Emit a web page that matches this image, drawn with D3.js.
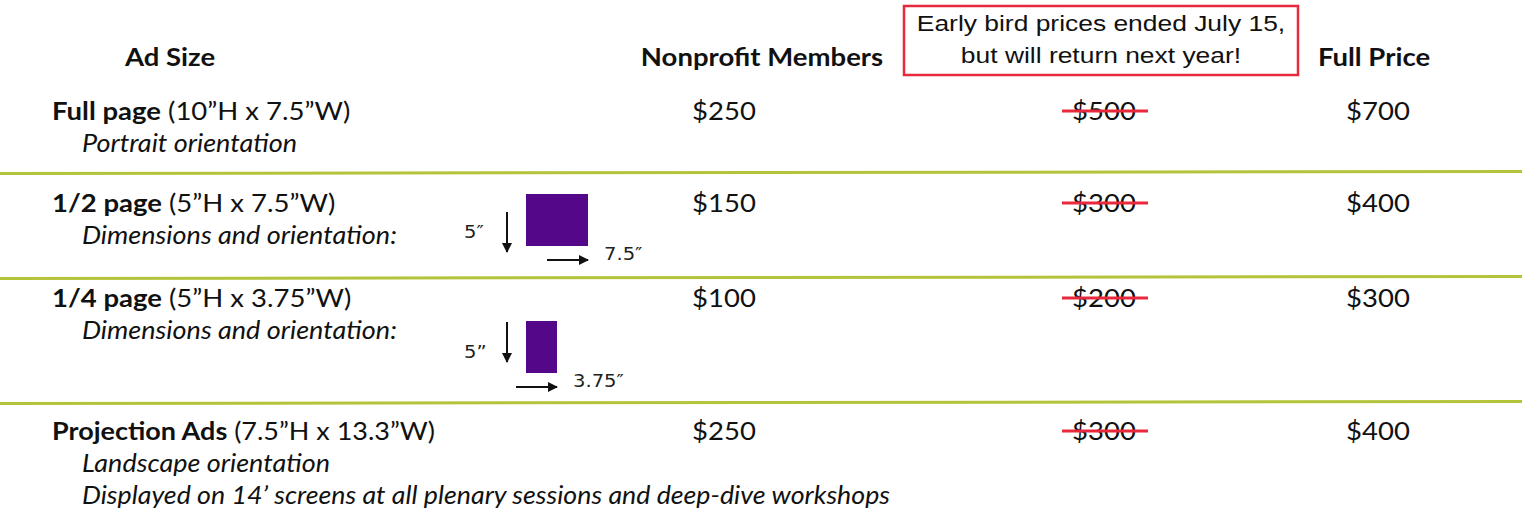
<!DOCTYPE html>
<html>
<head>
<meta charset="utf-8">
<script src="https://cdn.jsdelivr.net/npm/d3@7"></script>
<style>
  body { margin: 0; background: #fff; }
  svg { display: block; font-family: Lato, "Open Sans", sans-serif; }
</style>
</head>
<body>
<div id="wrapper"></div>
<script>

// data
const columnHeaders = ["Ad Size", "Nonprofit Members", "Full Price"];
const noticeLines = ["Early bird prices ended July 15,", "but will return next year!"];

const adNames = ["Full page", "1/2 page", "1/4 page", "Projection Ads"];
const adDims = ["(10”H x 7.5”W)", "(5”H x 7.5”W)", "(5”H x 3.75”W)", "(7.5”H x 13.3”W)"];
const adNotes = [
    ["Portrait orientation"],
    ["Dimensions and orientation:"],
    ["Dimensions and orientation:"],
    ["Landscape orientation", "Displayed on 14’ screens at all plenary sessions and deep-dive workshops"]
];
const memberPrices = [250, 150, 100, 250];
const earlyBirdPrices = [500, 300, 200, 300];
const fullPrices = [700, 400, 300, 400];

// sample ad shapes, in inches (only for the half and quarter page rows)
const shapeHeights = [null, 5, 5, null];
const shapeWidths = [null, 7.5, 3.75, null];
const shapeHeightLabels = [null, "5″", "5”", null];
const shapeWidthLabels = [null, "7.5″", "3.75″", null];

// stretch text horizontally (the original slide is a bit wide)
function stretch(selection, k) {
    selection.each(function() {
        const w = this.getComputedTextLength();
        d3.select(this)
            .attr("textLength", w * k)
            .attr("lengthAdjust", "spacingAndGlyphs");
    });
}

function drawTable() {

    const width = 1530;
    const height = 512;

    const rows = adNames.map((name, i) => ({
        name,
        dims: adDims[i],
        notes: adNotes[i],
        member: memberPrices[i],
        early: earlyBirdPrices[i],
        full: fullPrices[i],
        shapeH: shapeHeights[i],
        shapeW: shapeWidths[i],
        labelH: shapeHeightLabels[i],
        labelW: shapeWidthLabels[i]
    }));

    // layout
    const rowHeights = [110, 105, 125, 110];
    const headerHeight = 62;
    const rowTops = rowHeights.map((h, i) => headerHeight + d3.sum(rowHeights.slice(0, i)));
    const firstLineGap = [58, 40, 30, 38];
    const noteLineHeight = 32;
    // shape placement relative to the row's first baseline
    const shapeTop = [0, -18, 14, 0];
    const downArrowTop = [0, 18, 1, 0];
    const heightLabelY = [0, 44, 37, 0];

    const xColumn = d3.scaleOrdinal()
                        .domain(["name", "notes", "member", "early", "full"])
                        .range([52, 82, 724, 1104, 1378]);

    const inchX = d3.scaleLinear().domain([0, 7.5]).range([0, 62]);
    const inchY = d3.scaleLinear().domain([0, 5]).range([0, 52]);

    const money = d => `$${d}`;
    const k = 1.1;

    const svg = d3.select("#wrapper")
                    .append("svg")
                        .attr("width", width)
                        .attr("height", height);

    svg.append("defs")
        .append("marker")
            .attr("id", "arrow")
            .attr("viewBox", "0 0 10 10")
            .attr("refX", 9)
            .attr("refY", 5)
            .attr("markerWidth", 5)
            .attr("markerHeight", 5)
            .attr("orient", "auto")
        .append("path")
            .attr("d", "M0,0 L10,5 L0,10 z")
            .attr("fill", "#111");

    // headers
    const headerX = [170, 762, 1374];
    svg.selectAll(".header")
        .data(columnHeaders)
        .join("text")
            .attr("class", "header")
            .attr("x", (d, i) => headerX[i])
            .attr("y", 66)
            .attr("text-anchor", "middle")
            .style("font-weight", 700)
            .style("font-size", "25px")
            .attr("fill", "#111")
            .text(d => d)
            .call(stretch, k);

    // early bird notice box
    const notice = svg.append("g");
    notice.append("rect")
            .attr("x", 904)
            .attr("y", 6)
            .attr("width", 394)
            .attr("height", 69)
            .attr("fill", "none")
            .attr("stroke", "#e8283c")
            .attr("stroke-width", 2.5);
    notice.selectAll("text")
            .data(noticeLines)
            .join("text")
                .attr("x", 1101)
                .attr("y", (d, i) => 31 + i * 32)
                .attr("text-anchor", "middle")
                .style("font-family", "'Liberation Sans', Arial, sans-serif")
                .style("font-size", "22px")
                .attr("fill", "#111")
                .text(d => d)
                .call(stretch, 1.2);

    // row separators
    svg.selectAll(".sep")
        .data(rowTops.slice(1))
        .join("line")
            .attr("class", "sep")
            .attr("x1", 0)
            .attr("x2", 1522)
            .attr("y1", d => d + 1.5)
            .attr("y2", d => d - 0.5)
            .attr("stroke", "#b5c33a")
            .attr("stroke-width", 3);

    // rows
    const rowGroups = svg.selectAll(".row")
                        .data(rows)
                        .join("g")
                            .attr("class", "row")
                            .attr("transform", (d, i) => `translate(0, ${rowTops[i] + firstLineGap[i]})`);

    const condensed = d => d.name === "Projection Ads";

    const titles = rowGroups.append("text")
                        .attr("x", xColumn("name"))
                        .attr("y", 0)
                        .style("font-size", "25px")
                        .attr("fill", "#111");
    titles.append("tspan")
            .style("font-weight", 700)
            .text(d => d.name);
    titles.append("tspan")
            .text(d => " " + d.dims);
    titles.filter(d => !condensed(d)).call(stretch, k);
    titles.filter(condensed)
            .attr("textLength", 383)
            .attr("lengthAdjust", "spacingAndGlyphs");

    rowGroups.each(function(d) {
        const notes = d3.select(this)
            .selectAll(".note")
            .data(d.notes)
            .join("text")
                .attr("class", "note")
                .attr("x", xColumn("notes"))
                .attr("y", (n, j) => noteLineHeight * (j + 1))
                .style("font-style", "italic")
                .style("font-size", "25px")
                .attr("fill", "#111")
                .text(n => n);
        if (condensed(d)) {
            notes.attr("textLength", (n, j) => [248, 808][j])
                 .attr("lengthAdjust", "spacingAndGlyphs");
        } else {
            notes.call(stretch, 1.08);
        }
    });

    // prices
    const priceText = (g, key) => g.append("text")
                            .attr("x", xColumn(key))
                            .attr("y", 0)
                            .attr("text-anchor", "middle")
                            .style("font-size", "25px")
                            .attr("fill", "#111")
                            .text(d => money(d[key]))
                            .call(stretch, k);

    priceText(rowGroups, "member");
    priceText(rowGroups, "early");
    priceText(rowGroups, "full");

    rowGroups.append("line")
            .attr("x1", xColumn("early") - 42)
            .attr("x2", xColumn("early") + 44)
            .attr("y1", -9)
            .attr("y2", -9)
            .attr("stroke", "#e8283c")
            .attr("stroke-width", 3);

    // sample shapes
    const shapes = rowGroups.filter(d => d.shapeW !== null);
    const idx = d => adNames.indexOf(d.name);
    const shapeLeft = 526;
    const rectBottom = d => shapeTop[idx(d)] + inchY(d.shapeH);

    shapes.append("rect")
            .attr("x", shapeLeft)
            .attr("y", d => shapeTop[idx(d)])
            .attr("width", d => inchX(d.shapeW))
            .attr("height", d => inchY(d.shapeH))
            .attr("fill", "#55078a");

    shapes.append("line")
            .attr("x1", 507)
            .attr("x2", 507)
            .attr("y1", d => shapeTop[idx(d)] + downArrowTop[idx(d)])
            .attr("y2", d => shapeTop[idx(d)] + downArrowTop[idx(d)] + 40)
            .attr("stroke", "#111")
            .attr("stroke-width", 2)
            .attr("marker-end", "url(#arrow)");

    shapes.append("text")
            .attr("x", 464)
            .attr("y", d => shapeTop[idx(d)] + heightLabelY[idx(d)])
            .style("font-family", "'DejaVu Sans', Verdana, sans-serif")
            .style("font-size", "17px")
            .attr("fill", "#222")
            .text(d => d.labelH)
            .call(stretch, 1.15);

    shapes.append("line")
            .attr("x1", d => shapeLeft + inchX(d.shapeW) - 41)
            .attr("x2", d => shapeLeft + inchX(d.shapeW))
            .attr("y1", d => rectBottom(d) + 14)
            .attr("y2", d => rectBottom(d) + 14)
            .attr("stroke", "#111")
            .attr("stroke-width", 2)
            .attr("marker-end", "url(#arrow)");

    shapes.append("text")
            .attr("x", d => shapeLeft + inchX(d.shapeW) + 16)
            .attr("y", d => rectBottom(d) + 14)
            .style("font-family", "'DejaVu Sans', Verdana, sans-serif")
            .style("font-size", "17px")
            .attr("fill", "#222")
            .text(d => d.labelW)
            .call(stretch, 1.15);
}

drawTable();
</script>
</body>
</html>
